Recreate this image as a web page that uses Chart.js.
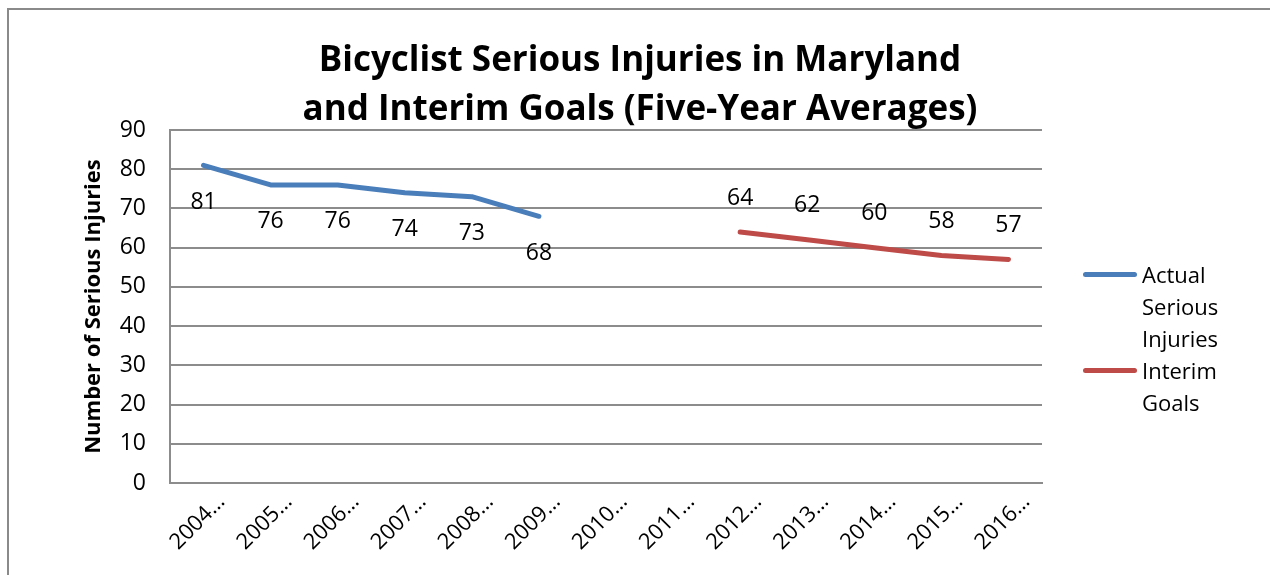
<!DOCTYPE html>
<html>
<head>
<meta charset="utf-8">
<script src="https://cdn.jsdelivr.net/npm/chart.js@4/dist/chart.umd.min.js"></script>
<style>
  html, body { margin: 0; padding: 0; background: #fff; }
  #wrap { position: relative; width: 1270px; height: 575px; overflow: hidden; font-family: "Open Sans", Lato, sans-serif; }
  #frame { position: absolute; left: 7px; top: 8px; width: 1300px; height: 600px; border-left: 2px solid #8a8a8a; border-top: 2px solid #8a8a8a; }
  #chart { position: absolute; left: 0; top: 0; }
  #title { position: absolute; left: 0; width: 1280px; top: 33px; text-align: center; font-weight: bold; font-size: 35px; line-height: 49px; color: #000; }
  #legend { position: absolute; left: 1083px; top: 258px; font-size: 22px; line-height: 32px; color: #000; }
  .item { position: relative; padding-left: 59px; width: 100px; margin-bottom: 0; }
  .swatch { position: absolute; left: 0; top: 14px; width: 54px; height: 5px; border-radius: 3px; }
</style>
</head>
<body>
<div id="wrap">
  <div id="frame"></div>
  <canvas id="chart" width="1270" height="575"></canvas>
  <div id="title">Bicyclist Serious Injuries in Maryland<br>and Interim Goals (Five-Year Averages)</div>
  <div id="legend"></div>
</div>
<script>
// ── Datos ────────────────────────────────────────────────────────────────────
const categorias = ['2004…','2005…','2006…','2007…','2008…','2009…','2010…','2011…','2012…','2013…','2014…','2015…','2016…'];
const lesionesReales = [81, 76, 76, 74, 73, 68, null, null, null, null, null, null, null];
const metasInterinas = [null, null, null, null, null, null, null, null, 64, 62, 60, 58, 57];
const nombresSeries = ['Actual Serious Injuries', 'Interim Goals'];
const ticksY = [0, 10, 20, 30, 40, 50, 60, 70, 80, 90];

const AZUL = '#4a7ebb';
const ROJO = '#be4b48';
const GRIS = '#8c8c8c';
const FUENTE = '"Open Sans", Lato, sans-serif';

// ── Etiquetas de datos (debajo/encima del punto) ─────────────────────────────
const etiquetasPlugin = {
    id: 'etiquetas',
    afterDatasetsDraw(chart) {
        const ctx = chart.ctx;
        ctx.save();
        ctx.font = `23px ${FUENTE}`;
        ctx.fillStyle = '#000';
        ctx.textAlign = 'center';
        ctx.textBaseline = 'middle';
        chart.data.datasets.forEach((ds, i) => {
            const meta = chart.getDatasetMeta(i);
            meta.data.forEach((pt, j) => {
                const v = ds.data[j];
                if (v === null || v === undefined) return;
                ctx.fillText(String(v), pt.x, pt.y + ds.desplazamiento);
            });
        });
        ctx.restore();
    }
};

const ctx = document.getElementById('chart').getContext('2d');
const grafico = new Chart(ctx, {
    type: 'line',
    data: {
        labels: categorias,
        datasets: [
            { label: nombresSeries[0], data: lesionesReales, borderColor: AZUL, backgroundColor: AZUL,
              borderWidth: 5, pointRadius: 0, borderCapStyle: 'round', borderJoinStyle: 'round',
              tension: 0, spanGaps: false, desplazamiento: 37 },
            { label: nombresSeries[1], data: metasInterinas, borderColor: ROJO, backgroundColor: ROJO,
              borderWidth: 5, pointRadius: 0, borderCapStyle: 'round', borderJoinStyle: 'round',
              tension: 0, spanGaps: false, desplazamiento: -34 }
        ]
    },
    options: {
        responsive: false,
        animation: false,
        layout: { padding: { left: 0, right: 228, top: 130, bottom: 0 } },
        plugins: {
            legend: { display: false },
            tooltip: { enabled: false },
            title: { display: false }
        },
        scales: {
            x: {
                offset: true,
                grid: { display: false, drawTicks: false },
                border: { display: true, color: GRIS, width: 2 },
                ticks: {
                    autoSkip: false, minRotation: 45, maxRotation: 45,
                    color: '#000', font: { family: FUENTE, size: 22 },
                    padding: 6, labelOffset: 18
                },
                afterFit: s => { s.height = 92; }
            },
            y: {
                min: 0, max: 90,
                afterBuildTicks: s => { s.ticks = ticksY.map(v => ({ value: v })); },
                grid: { color: GRIS, lineWidth: 2, drawTicks: false },
                border: { display: true, color: GRIS, width: 2 },
                ticks: { color: '#000', font: { family: FUENTE, size: 23 }, padding: 24 },
                title: {
                    display: true, text: 'Number of Serious Injuries',
                    color: '#000', font: { family: FUENTE, size: 22, weight: 'bold' },
                    padding: { top: 81, bottom: 0 }
                },
                afterFit: s => { s.width = 170; }
            }
        }
    },
    plugins: [etiquetasPlugin]
});

// ── Leyenda HTML ─────────────────────────────────────────────────────────────
const leyenda = document.getElementById('legend');
grafico.data.datasets.forEach(ds => {
    const item = document.createElement('div');
    item.className = 'item';
    item.innerHTML = `<span class="swatch" style="background:${ds.borderColor}"></span>${ds.label}`;
    leyenda.appendChild(item);
});
</script>
</body>
</html>
